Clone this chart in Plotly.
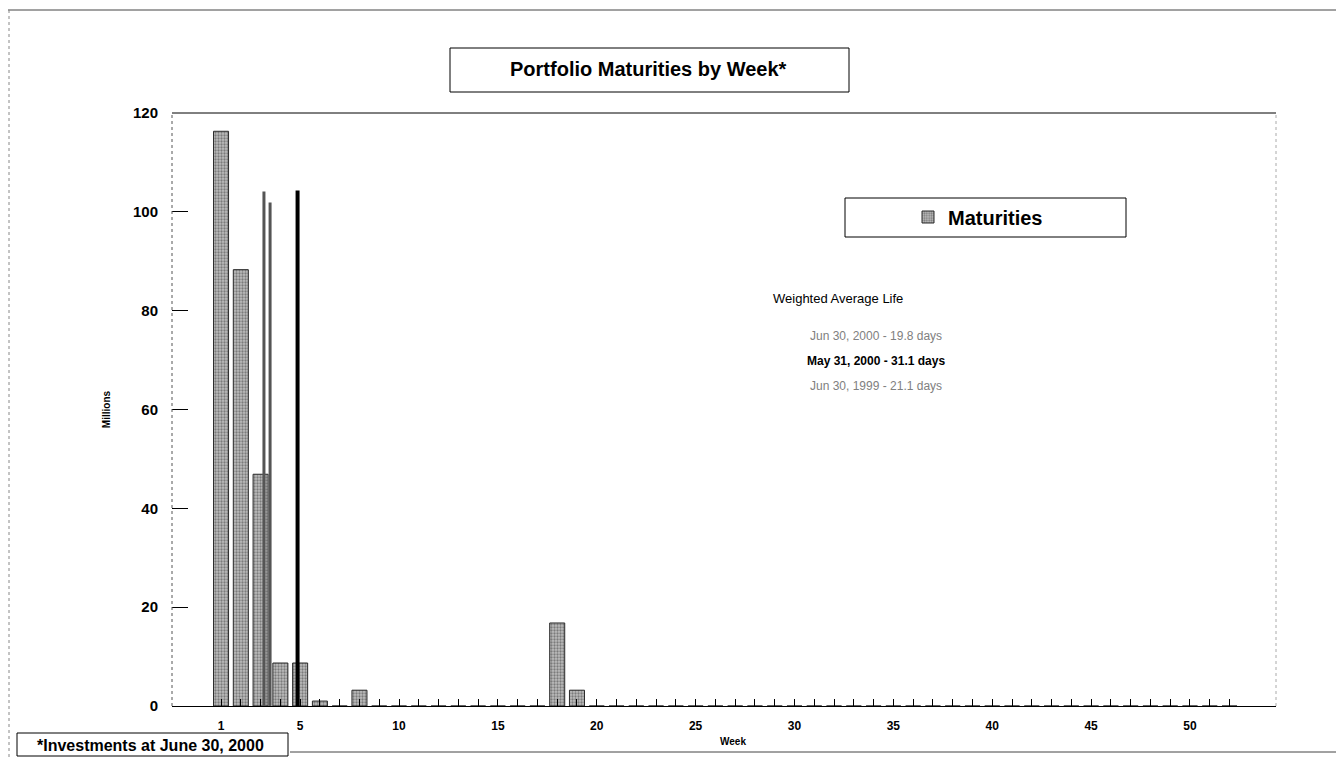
import plotly.graph_objects as go

# ---------------- data ----------------
weeks = list(range(1, 53))
maturity_weeks = [1, 2, 3, 4, 5, 6, 8, 18, 19]
maturity_values = [116.3, 88.3, 46.9, 8.7, 8.7, 1.0, 3.2, 16.8, 3.2]

wal_labels = ["Jun 30, 2000 - 19.8 days", "May 31, 2000 - 31.1 days", "Jun 30, 1999 - 21.1 days"]
wal_x = [3.17, 4.87, 3.48]
wal_top = [104.1, 104.3, 101.9]

x_label_weeks = [1, 5, 10, 15, 20, 25, 30, 35, 40, 45, 50]
y_ticks = [0, 20, 40, 60, 80, 100, 120]

# ---------------- layout helpers ----------------
# the page body has an 8px default margin, so the figure is drawn 8px in
OFF = 8
W, H = 1344 - OFF, 757 - OFF
L, R, T, B = 172, 1276, 113, 706          # plot area in screen pixels
PW, PH = R - L, B - T


def px(x):
    return (x - L) / PW


def py(y):
    return (B - y) / PH


FONT = "Arial, Liberation Sans, sans-serif"

vals = [0.0] * len(weeks)
for w, v in zip(maturity_weeks, maturity_values):
    vals[weeks.index(w)] = v

fig = go.Figure()
fig.add_trace(go.Bar(
    x=weeks, y=vals, name="Maturities", width=0.76,
    marker=dict(color="#a8a8a8",
                line=dict(color="#2a2a2a", width=1),
                pattern=dict(shape=".", fgcolor="#3a3a3a", bgcolor="#bdbdbd", size=3, solidity=0.45)),
    showlegend=True,
))

wal_styles = [dict(color="#555555", width=3), dict(color="#000000", width=4), dict(color="#555555", width=3)]
for xv, top, st, lab in zip(wal_x, wal_top, wal_styles, wal_labels):
    fig.add_trace(go.Scatter(x=[xv, xv], y=[0, top], mode="lines", line=st,
                             showlegend=False, name=lab, hoverinfo="skip"))

ticktext = [str(w) if w in x_label_weeks else "" for w in weeks]

fig.update_layout(
    width=W, height=H,
    margin=dict(l=L - OFF, r=W - (R - OFF), t=T - OFF, b=H - (B - OFF)),
    paper_bgcolor="white", plot_bgcolor="white",
    font=dict(family=FONT, color="black"),
    bargap=0.24,
    xaxis=dict(range=[-1.48, 54.35], tickvals=weeks, ticktext=ticktext,
               ticks="inside", ticklen=7, tickcolor="black", tickwidth=1,
               showline=True, linecolor="black", linewidth=1,
               showgrid=False, zeroline=False, ticklabelstandoff=9,
               tickfont=dict(size=12, family=FONT, weight="bold")),
    yaxis=dict(range=[0, 120], tickvals=y_ticks,
               ticks="inside", ticklen=16, tickcolor="black", tickwidth=1,
               showline=False, showgrid=False, zeroline=False, ticklabelstandoff=13,
               tickfont=dict(size=15, family=FONT, weight="bold"),
               title=dict(text="Millions", font=dict(size=10, family=FONT, weight="bold"), standoff=20)),
    legend=dict(x=px(908), y=py(217), xanchor="left", yanchor="middle",
                bgcolor="rgba(0,0,0,0)", borderwidth=0,
                font=dict(size=20, family=FONT, weight="bold")),
)

shapes = []
# plot frame
shapes.append(dict(type="line", xref="paper", yref="paper", x0=0, x1=1, y0=1, y1=1,
                   line=dict(color="black", width=1)))
shapes.append(dict(type="line", xref="paper", yref="paper", x0=0, x1=0, y0=0, y1=1,
                   line=dict(color="#555", width=1, dash="dot")))
shapes.append(dict(type="line", xref="paper", yref="paper", x0=1, x1=1, y0=0, y1=1,
                   line=dict(color="#aaa", width=1, dash="dot")))
# page frame
shapes.append(dict(type="line", xref="paper", yref="paper", x0=px(OFF), x1=px(1344), y0=py(10), y1=py(10),
                   line=dict(color="#444", width=1)))
shapes.append(dict(type="line", xref="paper", yref="paper", x0=px(290), x1=px(1344), y0=py(752), y1=py(752),
                   line=dict(color="#444", width=1)))
shapes.append(dict(type="line", xref="paper", yref="paper", x0=px(9), x1=px(9), y0=py(10), y1=py(757),
                   line=dict(color="#888", width=1, dash="dot")))
# title box
shapes.append(dict(type="rect", xref="paper", yref="paper", x0=px(450), x1=px(849), y0=py(92), y1=py(48),
                   line=dict(color="black", width=1), fillcolor="white", layer="below"))
# legend box
shapes.append(dict(type="rect", xref="paper", yref="paper", x0=px(845), x1=px(1126), y0=py(237), y1=py(198),
                   line=dict(color="black", width=1), fillcolor="rgba(0,0,0,0)"))
# footnote box
shapes.append(dict(type="rect", xref="paper", yref="paper", x0=px(17), x1=px(288), y0=py(756), y1=py(733),
                   line=dict(color="black", width=1), fillcolor="white"))
fig.update_layout(shapes=shapes)

annotations = [
    dict(text="Portfolio Maturities by Week*", x=px(648), y=py(69), font=dict(size=20, family=FONT, weight="bold")),
    dict(text="Weighted Average Life", x=px(838), y=py(298), font=dict(size=13, family=FONT)),
    dict(text=wal_labels[0], x=px(876), y=py(336), font=dict(size=12, family=FONT, color="#808080")),
    dict(text=wal_labels[1], x=px(876), y=py(361), font=dict(size=12, family=FONT, weight="bold")),
    dict(text=wal_labels[2], x=px(876), y=py(386), font=dict(size=12, family=FONT, color="#808080")),
    dict(text="Week", x=px(733), y=py(741), font=dict(size=10, family=FONT, weight="bold")),
    dict(text="*Investments at June 30, 2000", x=px(150), y=py(745), font=dict(size=16, family=FONT, weight="bold")),
]
for a in annotations:
    a.update(xref="paper", yref="paper", showarrow=False, xanchor="center", yanchor="middle")
fig.update_layout(annotations=annotations)

fig.write_html("out.html")
